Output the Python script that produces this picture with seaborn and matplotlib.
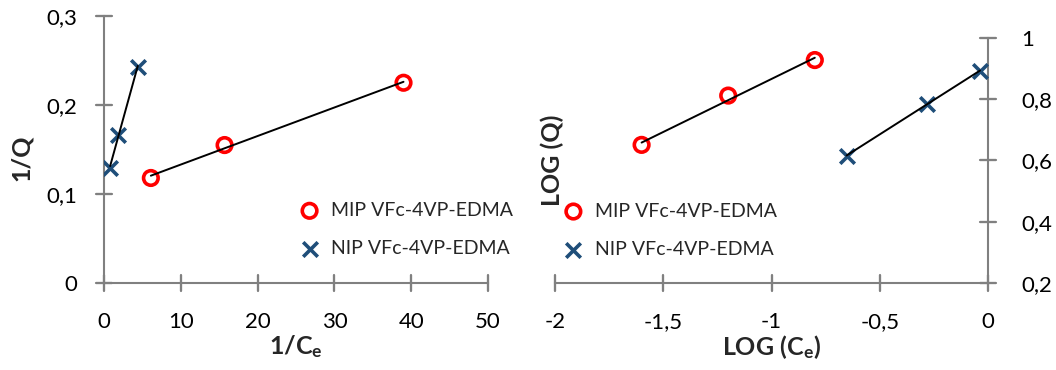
import numpy as np
import matplotlib
matplotlib.use("Agg")
import matplotlib.pyplot as plt
from matplotlib.ticker import FuncFormatter, MultipleLocator
import seaborn as sns

# -----------------------------
# data
# -----------------------------
# left panel: 1/Q vs 1/Ce
mip_inv_ce = [6.1, 15.7, 39.0]
mip_inv_q = [0.118, 0.155, 0.225]
nip_inv_ce = [0.8, 1.8, 4.4]
nip_inv_q = [0.129, 0.166, 0.243]

# right panel: log(Q) vs log(Ce)
mip_log_ce = [-1.6, -1.2, -0.8]
mip_log_q = [0.651, 0.812, 0.928]
nip_log_ce = [-0.653, -0.283, -0.037]
nip_log_q = [0.616, 0.784, 0.893]

mip_label = "MIP VFc-4VP-EDMA"
nip_label = "NIP VFc-4VP-EDMA"

RED = "#FF0000"
NAVY = "#1F4E79"
GREY = "#808080"

sns.set_theme(style="ticks")
plt.rcParams["font.family"] = ["Lato", "DejaVu Sans"]
plt.rcParams["mathtext.default"] = "regular"
# tick look: grey marks crossing the axis line
for a in ("xtick", "ytick"):
    plt.rcParams[a + ".direction"] = "inout"
    plt.rcParams[a + ".major.size"] = 12
    plt.rcParams[a + ".major.width"] = 1.5
    plt.rcParams[a + ".color"] = GREY
    plt.rcParams[a + ".labelcolor"] = "black"
    plt.rcParams[a + ".labelsize"] = 16
plt.rcParams["xtick.major.pad"] = 15
plt.rcParams["ytick.major.pad"] = 13
plt.rcParams["xtick.bottom"] = True
plt.rcParams["ytick.left"] = True


def comma(v, pos):
    return ("%g" % round(v, 3)).replace(".", ",")


def draw_series(ax, mx, my, nx, ny):
    sns.scatterplot(x=mx, y=my, marker="o", s=110, facecolor="none",
                    edgecolor=RED, linewidth=2.6, label=mip_label, ax=ax, zorder=3)
    sns.scatterplot(x=nx, y=ny, marker="x", s=110, color=NAVY,
                    linewidth=2.6, label=nip_label, ax=ax, zorder=3)
    sns.regplot(x=mx, y=my, scatter=False, ci=None, color="black",
                line_kws={"lw": 1.4, "zorder": 4}, ax=ax)
    sns.regplot(x=nx, y=ny, scatter=False, ci=None, color="black",
                line_kws={"lw": 1.4, "zorder": 4}, ax=ax)
    for sp in ax.spines.values():
        sp.set_color(GREY)
        sp.set_linewidth(1.5)
    ax.xaxis.set_major_formatter(FuncFormatter(comma))
    ax.yaxis.set_major_formatter(FuncFormatter(comma))


def cross_ticks(ax, yside=0.0):
    # short grey marks crossing the axis lines at every major tick
    bb = ax.get_window_extent()
    dx, dy = 8 / bb.width, 8 / bb.height
    x0, x1 = ax.get_xlim()
    y0, y1 = ax.get_ylim()
    for t in ax.get_xticks():
        if x0 - 1e-9 <= t <= x1 + 1e-9:
            ax.plot([t, t], [-dy, dy], transform=ax.get_xaxis_transform(),
                    color=GREY, lw=1.6, clip_on=False, zorder=10)
    for t in ax.get_yticks():
        if y0 - 1e-9 <= t <= y1 + 1e-9:
            ax.plot([yside - dx, yside + dx], [t, t], transform=ax.get_yaxis_transform(),
                    color=GREY, lw=1.6, clip_on=False, zorder=10)


fig = plt.figure(figsize=(10.56, 3.70), dpi=100)

# -----------------------------
# left panel
# -----------------------------
ax1 = fig.add_axes([104 / 1056, 87 / 370, 384 / 1056, 267 / 370])
draw_series(ax1, mip_inv_ce, mip_inv_q, nip_inv_ce, nip_inv_q)
ax1.set_xlim(0, 50)
ax1.set_ylim(0, 0.3)
ax1.xaxis.set_major_locator(MultipleLocator(10))
ax1.yaxis.set_major_locator(MultipleLocator(0.1))
ax1.spines["top"].set_visible(False)
ax1.spines["right"].set_visible(False)
ax1.set_xlabel("1/C$_e$", fontsize=18, fontweight="bold", labelpad=1)
ax1.set_ylabel("1/Q", fontsize=18, fontweight="bold")
ax1.yaxis.set_label_coords(-0.185, 0.47)
ax1.legend(loc="center left", bbox_to_anchor=(0.51, 0.2), frameon=False,
           fontsize=14, handlelength=1.0, handletextpad=0.6,
           labelspacing=1.1, borderpad=0, borderaxespad=0)
cross_ticks(ax1, 0.0)
ax1.set_xlim(0, 50)
ax1.set_ylim(0, 0.3)

# -----------------------------
# right panel
# -----------------------------
ax2 = fig.add_axes([555 / 1056, 87 / 370, 433 / 1056, 245 / 370])
draw_series(ax2, mip_log_ce, mip_log_q, nip_log_ce, nip_log_q)
ax2.set_xlim(-2, 0)
ax2.set_ylim(0.2, 1.0)
ax2.xaxis.set_major_locator(MultipleLocator(0.5))
ax2.yaxis.set_major_locator(MultipleLocator(0.2))
ax2.spines["top"].set_visible(False)
ax2.spines["left"].set_visible(False)
ax2.yaxis.tick_right()
ax2.yaxis.set_label_position("left")
ax2.tick_params(axis="y", pad=18)
ax2.set_xlabel("LOG (C$_e$)", fontsize=18, fontweight="bold", labelpad=1)
ax2.set_ylabel("LOG (Q)", fontsize=18, fontweight="bold")
ax2.yaxis.set_label_coords(0.02, 0.5)
ax2.legend(loc="center left", bbox_to_anchor=(0.02, 0.215), frameon=False,
           fontsize=14, handlelength=1.0, handletextpad=0.6,
           labelspacing=1.1, borderpad=0, borderaxespad=0)
cross_ticks(ax2, 1.0)
ax2.set_xlim(-2, 0)
ax2.set_ylim(0.2, 1.0)

fig.savefig("out.png", dpi=100)
